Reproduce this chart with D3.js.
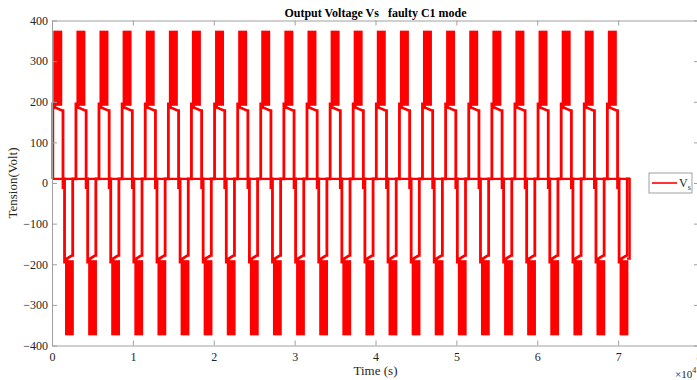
<!DOCTYPE html>
<html>
<head>
<meta charset="utf-8">
<script src="https://cdn.jsdelivr.net/npm/d3@7"></script>
<style>
  body { margin: 0; background: #fff; }
  svg { display: block; font-family: "Liberation Serif", "Times New Roman", serif; }
</style>
</head>
<body>
<svg id="chart" width="697" height="380"></svg>
<script>
// time in units of 1e4 s
const xTicks = [0, 1, 2, 3, 4, 5, 6, 7, 8];
const yTicks = [-400, -300, -200, -100, 0, 100, 200, 300, 400];

// start of each switching period
const periodStarts = [0, 0.286, 0.571, 0.857, 1.143, 1.429, 1.714, 2.0, 2.286, 2.571,
  2.857, 3.143, 3.429, 3.714, 4.0, 4.286, 4.571, 4.857, 5.143, 5.429,
  5.714, 6.0, 6.286, 6.571, 6.857];

// outline of one period of Vs: [offset, volts]
const periodShape = [[0.010, 10], [0.010, 195], [0.035, 195], [0.037, 186], [0.130, 178],
  [0.136, 178], [0.136, -15], [0.140, 10], [0.155, 10], [0.155, -195], [0.180, -195], [0.186, -186],
  [0.250, -178], [0.256, -178], [0.256, 10], [0.286, 10]];

// fast switching bands inside one period: [from, to, low, high]
const pwmBands = [[0.016, 0.127, 190, 375], [0.161, 0.270, -190, -375]];

// level line drawn across the whole record
const levelLine = [[0, 10], [7.143, 10], [7.143, -186], [7.11, -186]];

const margin = { left: 52, right: -2, top: 20.5, bottom: 34.5 };
const width = 697, height = 380;

const svg = d3.select('#chart');

const x = d3.scaleLinear().domain([0, 8]).range([margin.left, width - margin.right]);
const y = d3.scaleLinear().domain([-400, 400]).range([height - margin.bottom, margin.top]);

// bands
const bands = [];
periodStarts.forEach(s => pwmBands.forEach(b => bands.push([s + b[0], s + b[1], b[2], b[3]])));

svg.append('g')
  .selectAll('rect')
  .data(bands)
  .enter()
  .append('rect')
  .attr('x', d => x(d[0]))
  .attr('width', d => x(d[1]) - x(d[0]))
  .attr('y', d => y(Math.max(d[2], d[3])))
  .attr('height', d => Math.abs(y(d[2]) - y(d[3])))
  .attr('fill', '#ff0000');

// outline
const line = d3.line().x(d => x(d[0])).y(d => y(d[1]));
const outline = [];
periodStarts.forEach(s => periodShape.forEach(p => outline.push([s + p[0], p[1]])));

svg.append('path')
  .datum(outline)
  .attr('d', line)
  .attr('fill', 'none')
  .attr('stroke', '#ff0000')
  .attr('stroke-width', 2.8);

svg.append('path')
  .datum(levelLine)
  .attr('d', line)
  .attr('fill', 'none')
  .attr('stroke', '#ff0000')
  .attr('stroke-width', 2.2);

// axes
const axisColor = '#a0a0a0';
const textColor = '#262626';

const axBottom = svg.append('g')
  .attr('transform', 'translate(0,' + y(-400) + ')')
  .call(d3.axisBottom(x).tickValues(xTicks).tickSizeInner(-5).tickSizeOuter(0).tickPadding(7));

const axLeft = svg.append('g')
  .attr('transform', 'translate(' + x(0) + ',0)')
  .call(d3.axisLeft(y).tickValues(yTicks).tickSizeInner(-5).tickSizeOuter(0).tickPadding(4));

const axTop = svg.append('g')
  .attr('transform', 'translate(0,' + y(400) + ')')
  .call(d3.axisTop(x).tickValues(xTicks).tickSizeInner(-5).tickSizeOuter(0).tickFormat(''));

const axRight = svg.append('g')
  .attr('transform', 'translate(' + x(8) + ',0)')
  .call(d3.axisRight(y).tickValues(yTicks).tickSizeInner(-5).tickSizeOuter(0).tickFormat(''));

[axBottom, axLeft, axTop, axRight].forEach(g => {
  g.selectAll('path, line').attr('stroke', axisColor);
  g.selectAll('text')
    .attr('fill', textColor)
    .style('font-family', '"Liberation Serif", serif')
    .style('font-size', '12px');
});

// exponent
const expo = svg.append('text')
  .attr('x', 675)
  .attr('y', 378)
  .attr('fill', textColor)
  .style('font-size', '11px')
  .text('×10');
expo.append('tspan')
  .attr('dy', -5)
  .style('font-size', '8px')
  .text('4');

// title and labels
svg.append('text')
  .attr('x', (x(0) + x(8)) / 2)
  .attr('y', 16.5)
  .attr('text-anchor', 'middle')
  .attr('fill', '#000')
  .style('font-size', '12px')
  .style('font-weight', 'bold')
  .style('white-space', 'pre')
  .text('Output Voltage Vs   faulty C1 mode');

svg.append('text')
  .attr('x', (x(0) + x(8)) / 2)
  .attr('y', 375)
  .attr('text-anchor', 'middle')
  .attr('fill', textColor)
  .style('font-size', '13px')
  .text('Time (s)');

svg.append('text')
  .attr('transform', 'translate(17,' + y(0) + ') rotate(-90)')
  .attr('text-anchor', 'middle')
  .attr('fill', textColor)
  .style('font-size', '13px')
  .text('Tension(Volt)');

// legend
const legend = svg.append('g').attr('transform', 'translate(649,173)');
legend.append('rect')
  .attr('width', 43)
  .attr('height', 20)
  .attr('fill', '#fff')
  .attr('stroke', axisColor);
legend.append('line')
  .attr('x1', 3).attr('x2', 28)
  .attr('y1', 10).attr('y2', 10)
  .attr('stroke', '#ff0000')
  .attr('stroke-width', 1.6);
const lt = legend.append('text')
  .attr('x', 30)
  .attr('y', 14)
  .attr('fill', textColor)
  .style('font-size', '12px')
  .text('V');
lt.append('tspan')
  .attr('dy', 3)
  .style('font-size', '8px')
  .text('s');
</script>
</body>
</html>
